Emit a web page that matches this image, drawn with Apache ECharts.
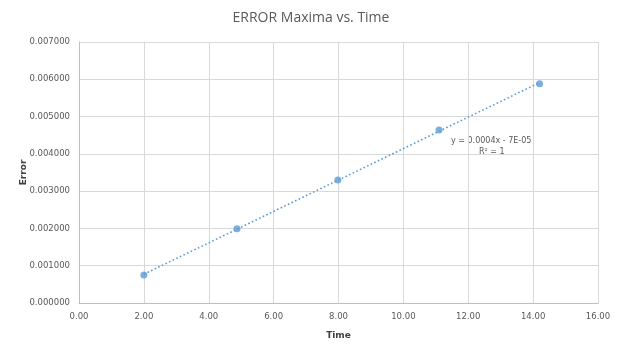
<!DOCTYPE html>
<html>
<head>
<meta charset="utf-8">
<script src="https://cdn.jsdelivr.net/npm/echarts@6/dist/echarts.min.js"></script>
<style>html,body{margin:0;padding:0;background:#fff}#c{width:622px;height:348px}</style>
</head>
<body>
<div id="c"></div>
<script>
var timeValues = [2.0, 4.87, 7.98, 11.1, 14.2];
var errorValues = [0.00075, 0.00199, 0.0033, 0.00464, 0.00588];
var titleText = 'ERROR Maxima vs. Time';
var trendLabel = 'y = 0.0004x - 7E-05';
var r2Label = 'R\u00B2 = 1';

// least-squares trendline from the data
var n = timeValues.length, sx = 0, sy = 0, sxx = 0, sxy = 0;
for (var i = 0; i < n; i++) { sx += timeValues[i]; sy += errorValues[i]; sxx += timeValues[i]*timeValues[i]; sxy += timeValues[i]*errorValues[i]; }
var slope = (n*sxy - sx*sy) / (n*sxx - sx*sx);
var icpt = (sy - slope*sx) / n;
var xa = timeValues[0], xb = timeValues[n-1];
var trend = [[xa, slope*xa + icpt], [xb, slope*xb + icpt]];

var chart = echarts.init(document.getElementById('c'));
var txt = '#595959';
chart.setOption({
  animation: false,
  title: { text: titleText, left: 'center', top: 6, textStyle: { fontFamily: 'Open Sans', fontSize: 14, fontWeight: 'normal', color: txt } },
  grid: { left: 79, right: 24, top: 42, bottom: 45 },
  xAxis: {
    type: 'value', min: 0, max: 16, interval: 2,
    name: 'Time', nameLocation: 'middle', nameGap: 28, nameMoveOverlap: false,
    nameTextStyle: { fontFamily: 'DejaVu Sans', fontSize: 9, fontWeight: 'bold', color: '#404040' },
    axisLine: { lineStyle: { color: '#bfbfbf' } },
    axisTick: { show: false },
    axisLabel: { fontFamily: 'DejaVu Sans', fontSize: 8.5, color: txt, margin: 9, formatter: function (v) { return v.toFixed(2); } },
    splitLine: { lineStyle: { color: '#d9d9d9' } }
  },
  yAxis: {
    type: 'value', min: 0, max: 0.007, interval: 0.001,
    name: 'Error', nameLocation: 'middle', nameGap: 51, nameRotate: 90, nameMoveOverlap: false,
    nameTextStyle: { fontFamily: 'DejaVu Sans', fontSize: 9, fontWeight: 'bold', color: '#404040' },
    axisLine: { show: true, lineStyle: { color: '#bfbfbf' } },
    axisTick: { show: false },
    axisLabel: { fontFamily: 'DejaVu Sans', fontSize: 8.5, color: txt, margin: 9, formatter: function (v) { return v.toFixed(6); } },
    splitLine: { lineStyle: { color: '#d9d9d9' } }
  },
  series: [
    { type: 'line', data: trend, symbol: 'none', lineStyle: { color: '#5b9bd5', width: 1.6, type: [1.6, 2.4] }, silent: true, z: 2 },
    { type: 'scatter', data: timeValues.map(function (x, i) { return [x, errorValues[i]]; }), symbol: 'circle', symbolSize: 7, itemStyle: { color: '#5b9bd5' }, z: 3 }
  ],
  graphic: [
    { type: 'text', left: 451, top: 137, style: { text: trendLabel, fontFamily: 'DejaVu Sans', fontSize: 8, fill: txt } },
    { type: 'text', left: 479, top: 148, style: { text: r2Label, fontFamily: 'DejaVu Sans', fontSize: 8, fill: txt } }
  ]
});
</script>
</body>
</html>
